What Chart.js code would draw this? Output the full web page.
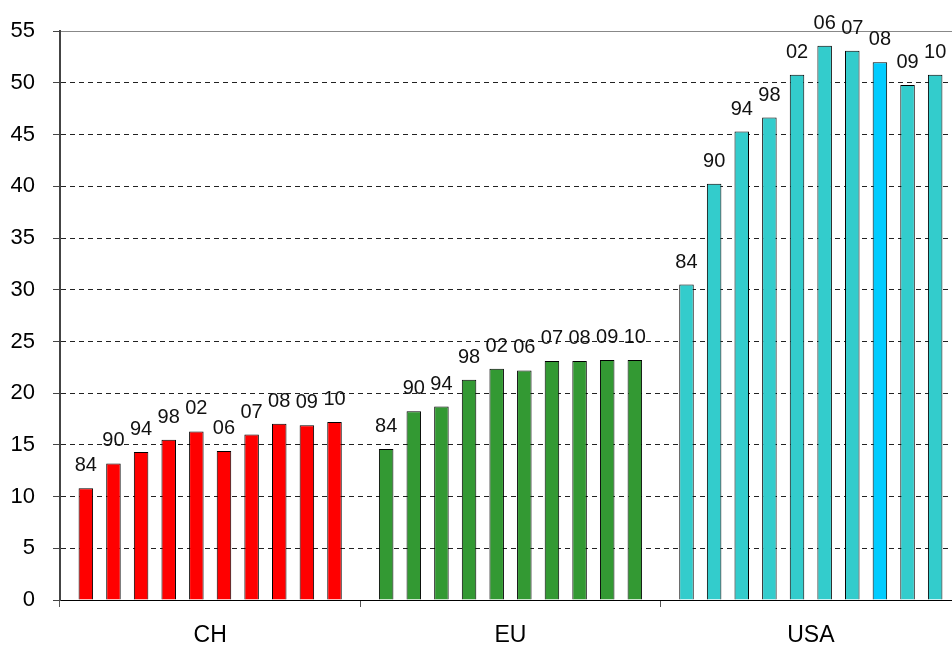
<!DOCTYPE html>
<html>
<head>
<meta charset="utf-8">
<script src="https://cdn.jsdelivr.net/npm/chart.js@4/dist/chart.umd.min.js"></script>
<style>
html,body{margin:0;padding:0;background:#fff;overflow:hidden;}
#wrap{width:965px;height:646px;position:relative;}
</style>
</head>
<body>
<div id="wrap"><canvas id="c"></canvas></div>
<script>
const categories = ['CH', 'EU', 'USA'];
const years = ['84', '90', '94', '98', '02', '06', '07', '08', '09', '10'];
const chValues  = [10.8, 13.2, 14.3, 15.5, 16.3, 14.4, 16.0, 17.05, 16.9, 17.2];
const euValues  = [14.6, 18.25, 18.7, 21.3, 22.35, 22.2, 23.1, 23.1, 23.2, 23.2];
const usaValues = [30.5, 40.25, 45.3, 46.65, 50.8, 53.6, 53.1, 52.0, 49.8, 50.8];
const yTicks = [0, 5, 10, 15, 20, 25, 30, 35, 40, 45, 50, 55];
const groupColors = ['#FF0000', '#339933', '#33CCCC'];
const highlightYear = '08';
const highlightColor = '#00CCFF';

const FONT = "'Liberation Sans', Arial, sans-serif";

const datasets = years.map((yr, i) => ({
  label: yr,
  data: [chValues[i], euValues[i], usaValues[i]],
  backgroundColor: groupColors.map((c, g) => (yr === highlightYear && g === 2) ? highlightColor : c),
  borderColor: '#000',
  borderWidth: 1,
  barPercentage: 0.525,
  categoryPercentage: 0.92
}));

const yearLabels = {
  id: 'yearLabels',
  afterDatasetsDraw(chart) {
    const ctx = chart.ctx;
    ctx.save();
    ctx.font = "20px " + FONT;
    ctx.fillStyle = '#111';
    ctx.textAlign = 'center';
    ctx.textBaseline = 'alphabetic';
    chart.data.datasets.forEach((ds, di) => {
      const meta = chart.getDatasetMeta(di);
      meta.data.forEach(el => {
        ctx.fillText(ds.label, el.x, el.y - 17);
      });
    });
    ctx.restore();
  }
};

new Chart(document.getElementById('c'), {
  type: 'bar',
  data: { labels: categories, datasets },
  options: {
    responsive: true,
    maintainAspectRatio: false,
    animation: false,
    layout: { padding: { left: 10, right: 4, top: 30, bottom: 0 } },
    plugins: { legend: { display: false }, tooltip: { enabled: false } },
    scales: {
      x: {
        type: 'category',
        position: 'bottom',
        grid: { offset: true, drawOnChartArea: false, drawTicks: true, tickLength: 7, color: '#555', lineWidth: 1 },
        border: { display: true, color: '#000', width: 1 },
        ticks: { color: '#000', font: { family: FONT, size: 23 }, padding: 15, maxRotation: 0 },
        afterFit(s) { s.height = 46; }
      },
      x2: {
        type: 'category',
        position: 'top',
        grid: { display: false, drawTicks: false },
        border: { display: true, color: '#888', width: 1 },
        ticks: { display: false },
        afterFit(s) { s.height = 0; }
      },
      y: {
        min: 0,
        max: 55,
        afterBuildTicks(s) { s.ticks = yTicks.map(v => ({ value: v })); },
        grid: {
          color: (c) => (c.tick && c.tick.value === 55) ? 'rgba(0,0,0,0)' : '#222',
          lineWidth: 1,
          tickLength: 7,
          tickColor: '#444',
          tickBorderDash: []
        },
        border: { display: true, color: '#444', width: 2, dash: [5, 4] },
        ticks: { color: '#000', font: { family: FONT, size: 22 }, padding: 18 },
        afterFit(s) { s.width = 50; }
      }
    }
  },
  plugins: [yearLabels]
});
</script>
</body>
</html>
